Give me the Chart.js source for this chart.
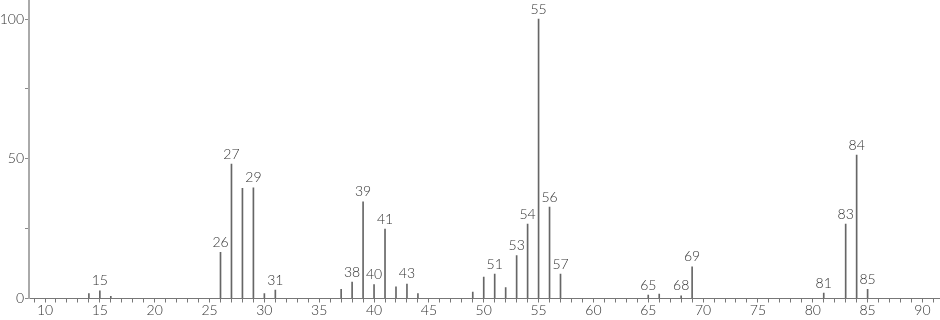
<!DOCTYPE html>
<html>
<head>
<meta charset="utf-8">
<script src="https://cdn.jsdelivr.net/npm/chart.js@4"></script>
<style>
  html, body { margin: 0; padding: 0; background: #fff; }
  #wrap { width: 940px; height: 320px; }
</style>
</head>
<body>
<div id="wrap"><canvas id="ms"></canvas></div>
<script>
// m/z values and relative intensities
const mz = [14, 15, 16, 26, 27, 28, 29, 30, 31, 37, 38, 39, 40, 41, 42, 43, 44,
            49, 50, 51, 52, 53, 54, 55, 56, 57, 65, 66, 68, 69, 81, 83, 84, 85];
const intensity = [1.8, 2.7, 0.8, 16.5, 48.1, 39.4, 39.6, 1.8, 3.0, 3.3, 5.9, 34.6, 5.0, 24.8, 4.2, 5.2, 1.8,
                   2.3, 7.7, 8.7, 3.9, 15.4, 26.6, 100, 32.7, 8.7, 1.2, 1.6, 1.0, 11.3, 1.9, 26.6, 51.3, 3.3];
// peaks that carry a label
const labeled = [15, 26, 27, 29, 31, 38, 39, 40, 41, 43, 51, 53, 54, 55, 56, 57, 65, 68, 69, 81, 83, 84, 85];
const yTickLabels = [0, 50, 100];

const font = "Lato, 'DejaVu Sans', sans-serif";

// write the m/z number above each labeled peak
const peakLabels = {
    id: 'peakLabels',
    afterDatasetsDraw(chart) {
        const ctx = chart.ctx;
        const xs = chart.scales.x, ys = chart.scales.y;
        ctx.save();
        ctx.font = "300 14px " + font;
        ctx.fillStyle = '#333';
        ctx.textAlign = 'center';
        ctx.textBaseline = 'bottom';
        mz.forEach((m, i) => {
            if (!labeled.includes(m)) return;
            ctx.fillText(String(m), xs.getPixelForValue(m), ys.getPixelForValue(intensity[i]) - 3);
        });
        ctx.restore();
    }
};

new Chart(document.getElementById('ms').getContext('2d'), {
    type: 'bar',
    data: {
        datasets: [{
            data: mz.map((m, i) => ({ x: m, y: intensity[i] })),
            backgroundColor: '#666',
            borderWidth: 0,
            barThickness: 1,
            grouped: false
        }]
    },
    options: {
        responsive: true,
        maintainAspectRatio: false,
        animation: false,
        layout: { padding: 0 },
        plugins: { legend: { display: false }, tooltip: { enabled: false } },
        scales: {
            x: {
                type: 'linear',
                min: 8.54,
                max: 91.6,
                offset: false,
                afterFit(s) { s.height = 21.5; s.paddingLeft = 0; s.paddingRight = 0; },
                border: { color: '#777', width: 1 },
                grid: { offset: false, drawOnChartArea: false, tickLength: 4, color: '#777' },
                ticks: {
                    stepSize: 1,
                    includeBounds: false,
                    autoSkip: false,
                    maxRotation: 0,
                    padding: 0,
                    color: '#333',
                    font: { family: font, size: 14, weight: 300 },
                    callback: v => (v % 5 === 0 ? String(v) : '')
                }
            },
            y: {
                min: 0,
                max: 106.8,
                afterFit(s) { s.width = 29; s.paddingTop = 0; s.paddingBottom = 0; },
                border: { color: '#aaa', width: 2 },
                grid: { drawOnChartArea: false, tickLength: 4, color: '#888' },
                ticks: {
                    stepSize: 25,
                    includeBounds: false,
                    padding: 1,
                    color: '#333',
                    font: { family: font, size: 14, weight: 300 },
                    callback: v => (yTickLabels.includes(v) ? String(v) : '')
                }
            }
        }
    },
    plugins: [peakLabels]
});
</script>
</body>
</html>
